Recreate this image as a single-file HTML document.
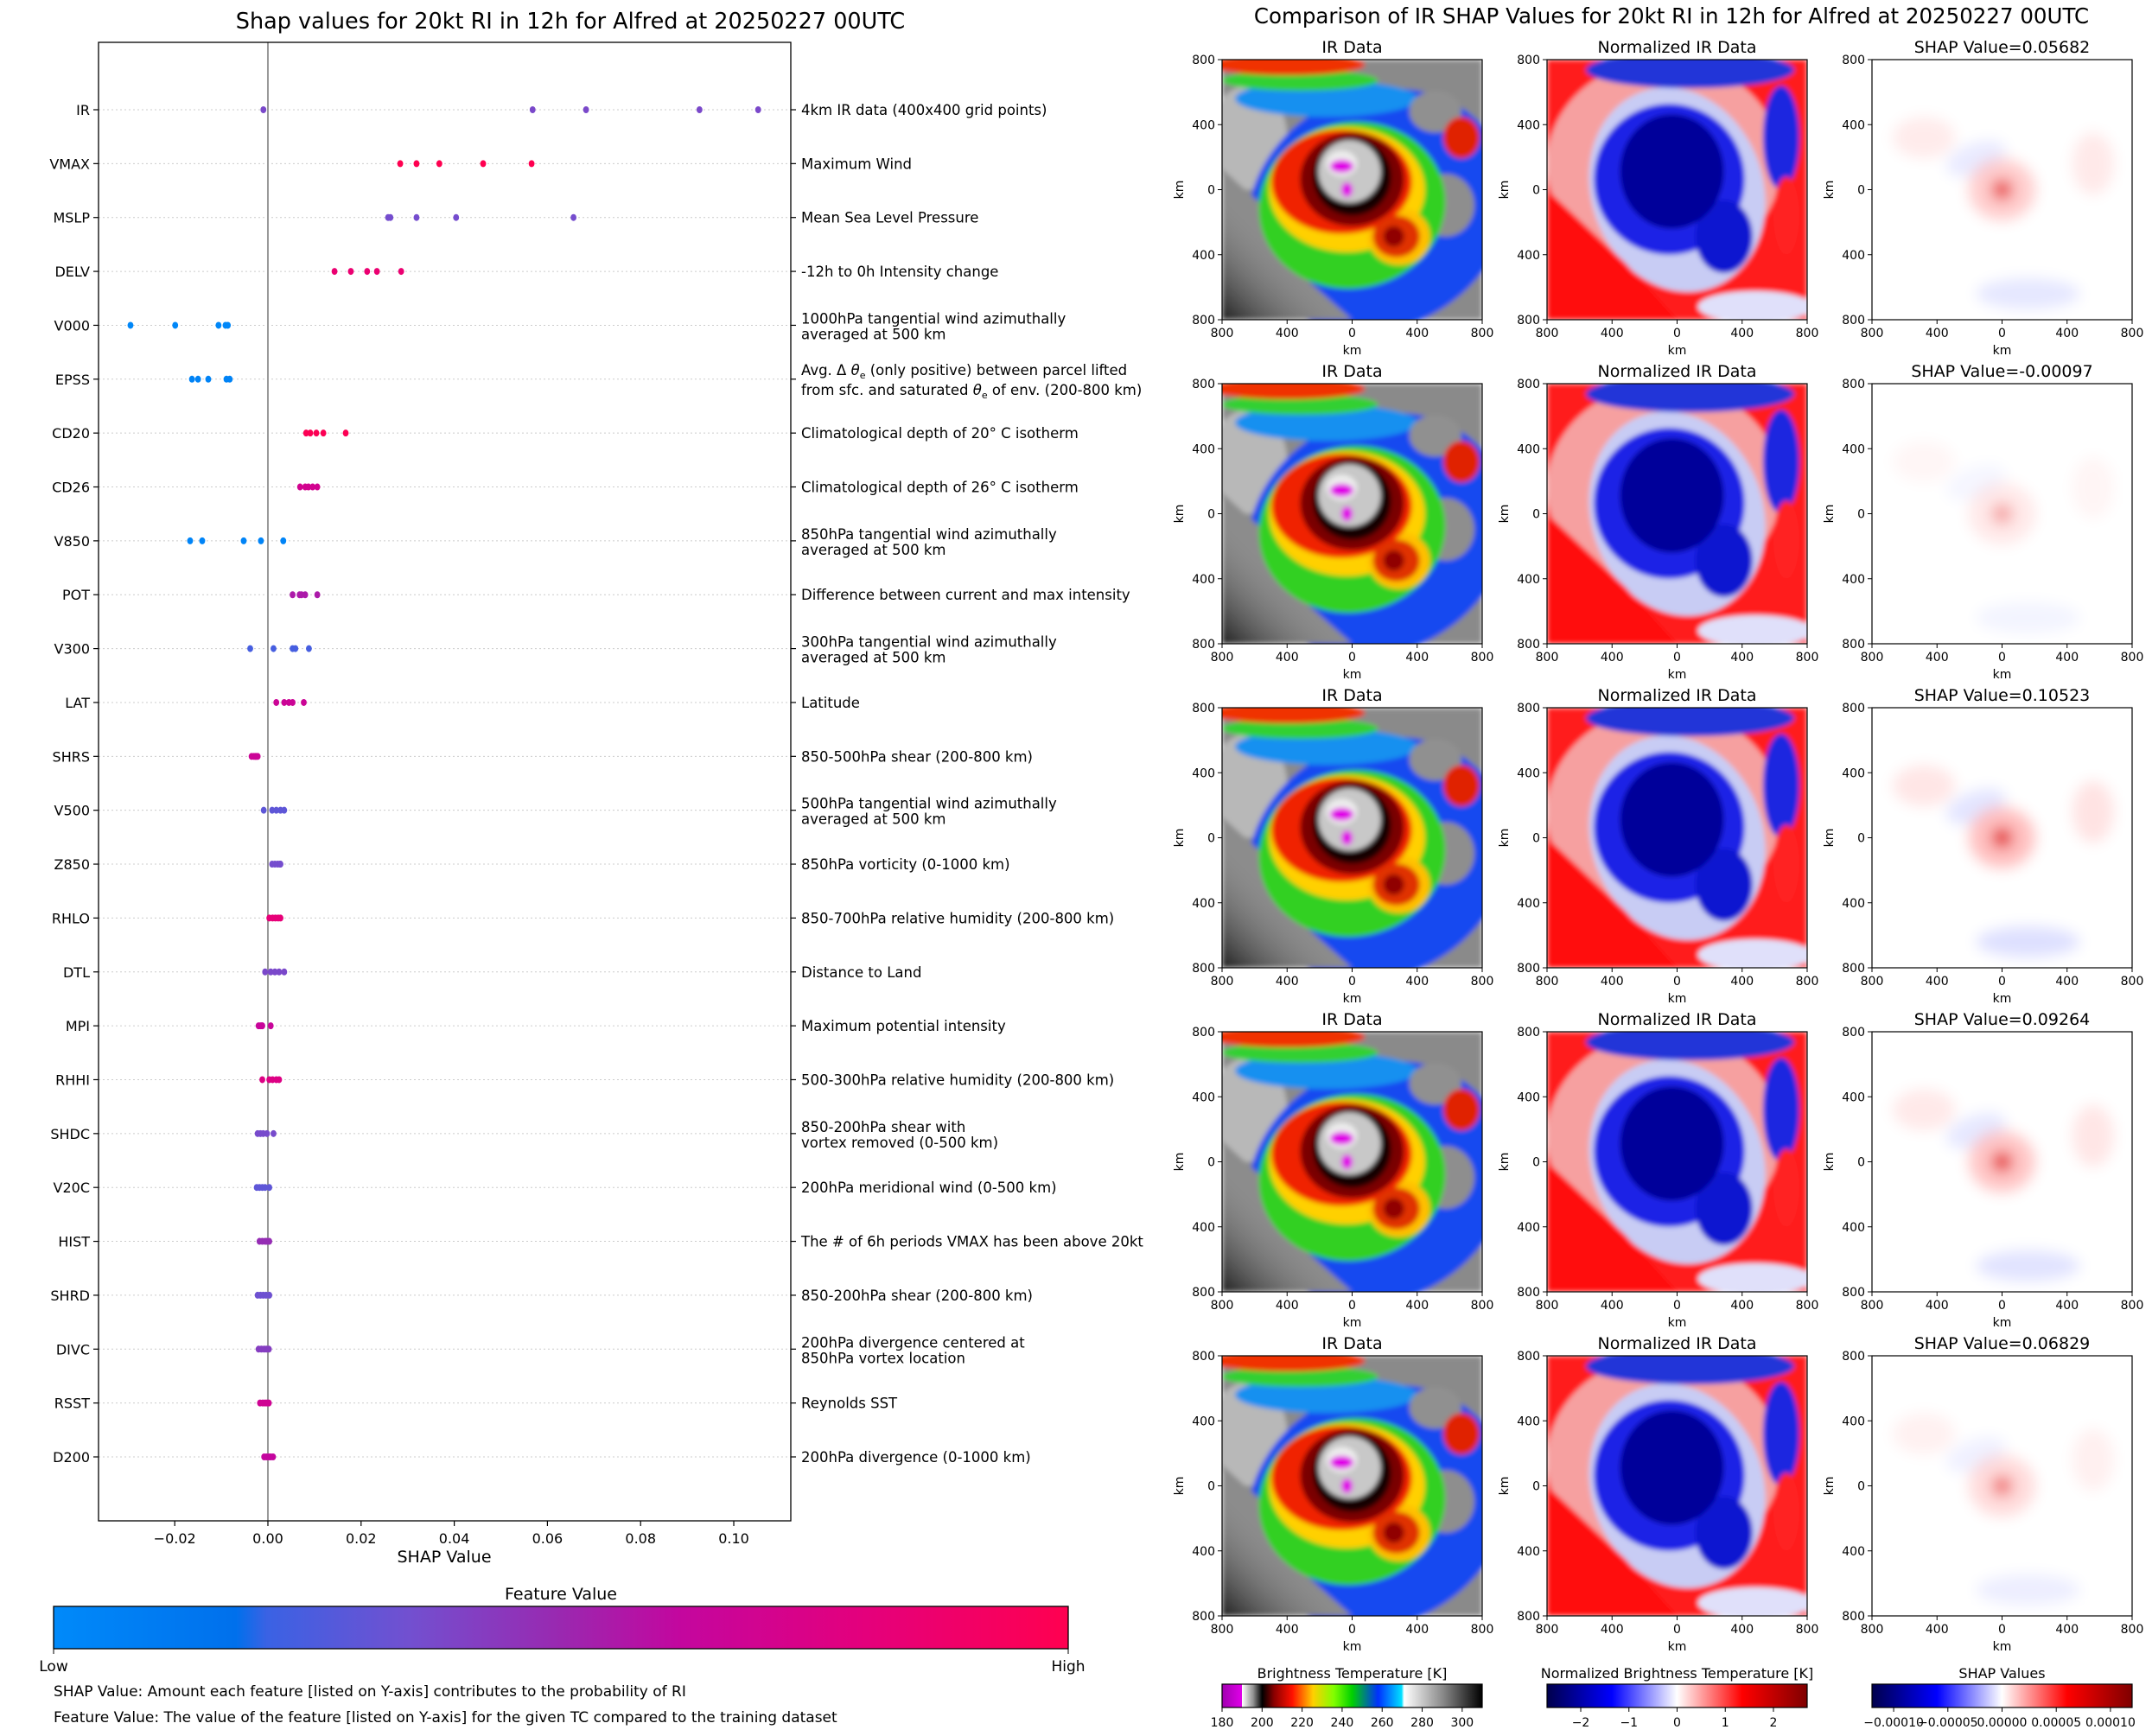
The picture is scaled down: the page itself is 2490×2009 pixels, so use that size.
<!DOCTYPE html>
<html><head><meta charset="utf-8">
<style>
html,body{margin:0;padding:0;background:#fff;}
svg{display:block;font-family:"DejaVu Sans","Liberation Sans",sans-serif;}
</style></head>
<body>
<svg id="root" width="2490" height="2009" viewBox="0 0 2490 2009" xmlns="http://www.w3.org/2000/svg">
<defs>
<linearGradient id="fvGrad" x1="0" x2="1" y1="0" y2="0">
<stop offset="0" stop-color="#008afa"/><stop offset="0.18" stop-color="#0070ec"/><stop offset="0.21" stop-color="#3a62e4"/>
<stop offset="0.35" stop-color="#7250d0"/><stop offset="0.5" stop-color="#9a28b0"/><stop offset="0.62" stop-color="#c4069e"/>
<stop offset="0.8" stop-color="#e4007c"/><stop offset="1" stop-color="#ff0050"/></linearGradient>
<linearGradient id="irGrad" x1="0" x2="1" y1="0" y2="0">
<stop offset="0" stop-color="#a000b0"/><stop offset="0.076" stop-color="#e000e8"/><stop offset="0.077" stop-color="#ffffff"/>
<stop offset="0.12" stop-color="#909090"/><stop offset="0.154" stop-color="#000000"/><stop offset="0.2" stop-color="#8a0000"/>
<stop offset="0.27" stop-color="#ff1000"/><stop offset="0.35" stop-color="#ffd000"/><stop offset="0.43" stop-color="#80ff00"/>
<stop offset="0.5" stop-color="#00d000"/><stop offset="0.6" stop-color="#0030ff"/><stop offset="0.69" stop-color="#00e0ff"/>
<stop offset="0.7" stop-color="#ffffff"/><stop offset="0.85" stop-color="#888888"/><stop offset="1" stop-color="#000000"/></linearGradient>
<linearGradient id="seisGrad" x1="0" x2="1" y1="0" y2="0">
<stop offset="0" stop-color="#00004c"/><stop offset="0.25" stop-color="#0000ff"/><stop offset="0.5" stop-color="#ffffff"/>
<stop offset="0.75" stop-color="#ff0000"/><stop offset="1" stop-color="#7f0000"/></linearGradient>
<linearGradient id="cornerGrad" x1="0" x2="1" y1="1" y2="0">
<stop offset="0" stop-color="#202020"/><stop offset="0.25" stop-color="#8c8c8c" stop-opacity="0"/></linearGradient>
<filter id="blur5" x="-10%" y="-10%" width="120%" height="120%"><feGaussianBlur stdDeviation="3"/></filter>
<filter id="blur9" x="-20%" y="-20%" width="140%" height="140%"><feGaussianBlur stdDeviation="8"/></filter>
</defs>
<g id="left"></g>
<g id="right"></g>
</svg>
<script>
const features = ['IR','VMAX','MSLP','DELV','V000','EPSS','CD20','CD26','V850','POT','V300','LAT','SHRS','V500','Z850','RHLO','DTL','MPI','RHHI','SHDC','V20C','HIST','SHRD','DIVC','RSST','D200'];
const descriptions = [
 ['4km IR data (400x400 grid points)'],['Maximum Wind'],['Mean Sea Level Pressure'],['-12h to 0h Intensity change'],
 ['1000hPa tangential wind azimuthally','averaged at 500 km'],['EPSS'],
 ['Climatological depth of 20° C isotherm'],['Climatological depth of 26° C isotherm'],
 ['850hPa tangential wind azimuthally','averaged at 500 km'],['Difference between current and max intensity'],
 ['300hPa tangential wind azimuthally','averaged at 500 km'],['Latitude'],['850-500hPa shear (200-800 km)'],
 ['500hPa tangential wind azimuthally','averaged at 500 km'],['850hPa vorticity (0-1000 km)'],['850-700hPa relative humidity (200-800 km)'],
 ['Distance to Land'],['Maximum potential intensity'],['500-300hPa relative humidity (200-800 km)'],
 ['850-200hPa shear with','vortex removed (0-500 km)'],['200hPa meridional wind (0-500 km)'],
 ['The # of 6h periods VMAX has been above 20kt'],['850-200hPa shear (200-800 km)'],
 ['200hPa divergence centered at','850hPa vortex location'],['Reynolds SST'],['200hPa divergence (0-1000 km)']];
const shapValues = [
 [-0.00097,0.05682,0.06829,0.09264,0.10523],[0.0284,0.0319,0.0368,0.0462,0.0566],[0.0258,0.0263,0.0319,0.0404,0.0656],
 [0.0143,0.0178,0.0213,0.0234,0.0286],[-0.0295,-0.0199,-0.0106,-0.0091,-0.0086],[-0.0163,-0.0150,-0.0128,-0.0089,-0.0082],
 [0.0082,0.0091,0.0104,0.0119,0.0167],[0.0069,0.0080,0.0087,0.0096,0.0106],[-0.0167,-0.0141,-0.0052,-0.0015,0.0033],
 [0.0053,0.0068,0.0072,0.0080,0.0106],[-0.0038,0.0012,0.0053,0.0059,0.0088],[0.0018,0.0035,0.0045,0.0053,0.0077],
 [-0.0035,-0.0030,-0.0027,-0.0025,-0.0022],[-0.0009,0.0009,0.0018,0.0027,0.0035],[0.0009,0.0015,0.0021,0.0026,0.0027],
 [0.0003,0.0010,0.0016,0.0022,0.0027],[-0.0006,0.0006,0.0015,0.0024,0.0035],[-0.0020,-0.0016,-0.0013,-0.0012,0.0006],
 [-0.0012,0.0003,0.0010,0.0018,0.0024],[-0.0022,-0.0016,-0.0010,-0.0002,0.0012],[-0.0024,-0.0018,-0.0012,-0.0006,0.0003],
 [-0.0018,-0.0012,-0.0006,-0.0002,0.0003],[-0.0022,-0.0016,-0.0010,-0.0004,0.0003],[-0.0020,-0.0014,-0.0008,-0.0003,0.0002],
 [-0.0017,-0.0011,-0.0006,-0.0002,0.0002],[-0.0008,-0.0003,0.0002,0.0006,0.0011]];
const featureValues = [0.38,1.0,0.36,0.85,0.02,0.05,0.98,0.7,0.04,0.55,0.24,0.66,0.66,0.3,0.36,0.82,0.38,0.64,0.76,0.37,0.3,0.48,0.34,0.42,0.68,0.62];
const xTicks = [-0.02,0.00,0.02,0.04,0.06,0.08,0.10];
const xTickLabels = ['\u22120.02','0.00','0.02','0.04','0.06','0.08','0.10'];
const panelShap = ['0.05682','-0.00097','0.10523','0.09264','0.06829'];
const panelShapStrength = [0.8,0.35,1.0,0.9,0.55];

const NS='http://www.w3.org/2000/svg';
function mk(tag,attrs,parent,text){const e=document.createElementNS(NS,tag);for(const k in attrs)e.setAttribute(k,attrs[k]);if(text!==undefined)e.textContent=text;parent.appendChild(e);return e;}
const L=document.getElementById('left'), R=document.getElementById('right');

const AX={l:114,r:915,t:49,b:1760};
const xMin=-0.03636,xMax=0.11224;
const xs=v=>AX.l+(v-xMin)/(xMax-xMin)*(AX.r-AX.l);
const y0=127,dy=62.36;
const ys=i=>y0+i*dy;
const cmapStops=[[0,[0,138,250]],[0.18,[0,112,236]],[0.21,[58,98,228]],[0.35,[114,80,208]],[0.5,[154,40,176]],[0.62,[196,6,158]],[0.8,[228,0,124]],[1,[255,0,80]]];
function cmap(t){for(let i=1;i<cmapStops.length;i++){if(t<=cmapStops[i][0]){const a=cmapStops[i-1],b=cmapStops[i];const f=(t-a[0])/(b[0]-a[0]);const c=a[1].map((x,j)=>Math.round(x+(b[1][j]-x)*f));return 'rgb('+c.join(',')+')';}}return 'rgb(255,0,80)';}

let t=mk('text',{x:660,y:33,'font-size':25.5,'text-anchor':'middle'},L,'Shap values for 20kt RI in 12h for Alfred at 20250227 00UTC');

features.forEach((f,i)=>{
  const y=ys(i);
  const gl=mk('line',{x1:AX.l,x2:AX.r,y1:y,y2:y,stroke:'#ccc','stroke-width':1,'stroke-dasharray':'2,3'},L);
  
  mk('line',{x1:AX.l-6,x2:AX.l,y1:y,y2:y,stroke:'#000','stroke-width':1.2},L);
  mk('line',{x1:AX.r,x2:AX.r+6,y1:y,y2:y,stroke:'#000','stroke-width':1.2},L);
  const lb=mk('text',{x:AX.l-10,y:y+6,'font-size':16,'text-anchor':'end'},L,f);
  
});
const zl=mk('line',{x1:xs(0),x2:xs(0),y1:AX.t,y2:AX.b,stroke:'#999','stroke-width':2},L);

shapValues.forEach((arr,i)=>{arr.forEach(v=>{
  const c=mk('ellipse',{cx:xs(v),cy:ys(i),rx:3.4,ry:4,fill:cmap(featureValues[i])},L);
  
});});
descriptions.forEach((d,i)=>{
  const y=ys(i);
  if(features[i]==='EPSS'){
    const tx=mk('text',{x:AX.r+12,y:y-5,'font-size':16.5},L);
    
    tx.innerHTML='Avg. Δ <tspan font-style="italic">θ</tspan><tspan font-size="11" dy="4">e</tspan><tspan dy="-4"> (only positive) between parcel lifted</tspan>';
    const tx2=mk('text',{x:AX.r+12,y:y+18,'font-size':16.5},L);
    
    tx2.innerHTML='from sfc. and saturated <tspan font-style="italic">θ</tspan><tspan font-size="11" dy="4">e</tspan><tspan dy="-4"> of env. (200-800 km)</tspan>';
  } else if(d.length===1){
    const tx=mk('text',{x:AX.r+12,y:y+6,'font-size':16.5},L,d[0]);
    
  } else {
    const tx=mk('text',{x:AX.r+12,y:y-2,'font-size':16.5},L,d[0]);
    
    const tx2=mk('text',{x:AX.r+12,y:y+16,'font-size':16.5},L,d[1]);
    
  }
});
const fr=mk('rect',{x:AX.l,y:AX.t,width:AX.r-AX.l,height:AX.b-AX.t,fill:'none',stroke:'#000','stroke-width':1.3},L);

xTicks.forEach((v,k)=>{
  mk('line',{x1:xs(v),x2:xs(v),y1:AX.b,y2:AX.b+6,stroke:'#000','stroke-width':1.2},L);
  const tl=mk('text',{x:xs(v),y:AX.b+26,'font-size':16,'text-anchor':'middle'},L,xTickLabels[k]);
  
});
t=mk('text',{x:514,y:1808,'font-size':19,'text-anchor':'middle'},L,'SHAP Value');

t=mk('text',{x:649,y:1851,'font-size':19,'text-anchor':'middle'},L,'Feature Value');

t=mk('rect',{x:62,y:1859,width:1174,height:49,fill:'url(#fvGrad)',stroke:'#000','stroke-width':1.3},L);

mk('line',{x1:62,x2:62,y1:1908,y2:1914,stroke:'#000'},L);mk('line',{x1:1236,x2:1236,y1:1908,y2:1914,stroke:'#000'},L);
t=mk('text',{x:62,y:1934,'font-size':17,'text-anchor':'middle'},L,'Low');
t=mk('text',{x:1236,y:1934,'font-size':17,'text-anchor':'middle'},L,'High');
t=mk('text',{x:62,y:1963,'font-size':17},L,'SHAP Value: Amount each feature [listed on Y-axis] contributes to the probability of RI');

t=mk('text',{x:62,y:1993,'font-size':17},L,'Feature Value: The value of the feature [listed on Y-axis] for the given TC compared to the training dataset');


t=mk('text',{x:1934,y:27,'font-size':24.5,'text-anchor':'middle'},R,'Comparison of IR SHAP Values for 20kt RI in 12h for Alfred at 20250227 00UTC');

const colX=[1414,1790,2166], PW=301;
const rowY=[69,444,819,1194,1569];
const titles=['IR Data','Normalized IR Data'];
let clipN=0;
function E(g,u,v,rx,ry,fill,rot,op){const e=mk('ellipse',{cx:u*PW,cy:v*PW,rx:rx*PW,ry:ry*PW,fill:fill},g);if(rot)e.setAttribute('transform','rotate('+rot+' '+u*PW+' '+v*PW+')');if(op!==undefined)e.setAttribute('opacity',op);return e;}
function P(g,pts,fill,op){const e=mk('polygon',{points:pts.map(p=>(p[0]*PW)+','+(p[1]*PW)).join(' '),fill:fill},g);if(op!==undefined)e.setAttribute('opacity',op);return e;}
function drawIR(g){
  mk('rect',{x:0,y:0,width:PW,height:PW,fill:'#8a8a8a'},g);
  E(g,0.1,0.3,0.15,0.2,'#b8b8b8');
  E(g,0.6,0.58,0.52,0.45,'#1848f0',-30);
  E(g,0.4,0.15,0.35,0.07,'#1890f0');
  E(g,0.3,0.08,0.3,0.04,'#30d030');
  E(g,0.25,0.02,0.3,0.04,'#f03000');
  P(g,[[0,0.42],[0.2,0.6],[0.33,0.85],[0.5,1],[0,1]],'#8c8c8c');
  mk('rect',{x:0,y:0,width:PW,height:PW,fill:'url(#cornerGrad)'},g);
  E(g,0.86,0.56,0.11,0.12,'#8e8e8e');
  E(g,0.82,0.2,0.1,0.08,'#909090');
  E(g,0.92,0.3,0.07,0.08,'#e02000');
  E(g,0.5,0.56,0.36,0.32,'#30d020',-10);
  E(g,0.48,0.5,0.3,0.24,'#ffd000');
  E(g,0.68,0.68,0.12,0.11,'#ffc000');
  E(g,0.46,0.47,0.27,0.2,'#f02000');
  E(g,0.67,0.68,0.09,0.08,'#e03000');
  E(g,0.66,0.68,0.04,0.04,'#900000');
  E(g,0.5,0.46,0.2,0.18,'#7a0000');
  E(g,0.5,0.45,0.15,0.15,'#180000');
  E(g,0.49,0.43,0.12,0.12,'#c8c8c8');
  E(g,0.46,0.4,0.06,0.05,'#ececec');
  E(g,0.46,0.41,0.045,0.025,'#e000e8');
  E(g,0.48,0.5,0.022,0.028,'#e000e8');
}
function drawNorm(g){
  mk('rect',{x:0,y:0,width:PW,height:PW,fill:'#ff1a1a'},g);
  E(g,0.45,0.4,0.45,0.4,'#f6a0a0');
  E(g,0.5,0.5,0.33,0.4,'#c8ccf4',-20);
  E(g,0.55,0.04,0.4,0.07,'#2036d8');
  E(g,0.9,0.3,0.07,0.2,'#1a28e0');
  E(g,0.47,0.46,0.29,0.29,'#1a24e6');
  E(g,0.68,0.68,0.11,0.14,'#0a18d0');
  E(g,0.48,0.43,0.2,0.22,'#00009a');
  P(g,[[0,0.5],[0.3,0.78],[0.5,1],[0,1]],'#ff1010');
  E(g,0.8,0.95,0.22,0.06,'#e0e0fa');
  E(g,0.92,0.6,0.05,0.15,'#ff2020');
}
function drawShap(g,s){
  mk('rect',{x:0,y:0,width:PW,height:PW,fill:'#fff'},g);
  E(g,0.4,0.38,0.12,0.06,'#d0d4ff',-20,0.6*s);
  E(g,0.5,0.5,0.13,0.12,'#ffb0b0',0,0.8*s);
  E(g,0.5,0.5,0.04,0.04,'#e01010',0,0.9*s);
  E(g,0.6,0.9,0.2,0.06,'#c8ccff',0,0.6*s);
  E(g,0.2,0.3,0.12,0.08,'#ffd6d6',0,0.6*s);
  E(g,0.85,0.4,0.08,0.12,'#ffd0d0',0,0.6*s);
}
function tickNum(v){return v===0?'0':String(Math.abs(v));}
const kmTicks=[-800,-400,0,400,800];
rowY.forEach((py,r)=>{
  colX.forEach((px,c)=>{
    const g=mk('g',{transform:'translate('+px+','+py+')'},R);
    
    
    const id='clp'+(clipN++);
    const cp=mk('clipPath',{id:id},g);mk('rect',{x:0,y:0,width:PW,height:PW},cp);
    const img=mk('g',{'clip-path':'url(#'+id+')'},g);
    const inner=mk('g',{filter:c===2?'url(#blur9)':'url(#blur5)'},img);
    if(c===0)drawIR(inner);else if(c===1)drawNorm(inner);else drawShap(inner,panelShapStrength[r]);
    mk('rect',{x:0,y:0,width:PW,height:PW,fill:'none',stroke:'#000','stroke-width':1.2},g);
    const ttl=c<2?titles[c]:'SHAP Value='+panelShap[r];
    const tt=mk('text',{x:PW/2,y:-8,'font-size':19,'text-anchor':'middle'},g,ttl);
    
    kmTicks.forEach(k=>{
      const xx=(k+800)/1600*PW, yy=(800-k)/1600*PW;
      mk('line',{x1:xx,x2:xx,y1:PW,y2:PW+5,stroke:'#000'},g);
      mk('text',{x:xx,y:PW+20,'font-size':14,'text-anchor':'middle'},g,tickNum(k));
      mk('line',{x1:-5,x2:0,y1:yy,y2:yy,stroke:'#000'},g);
      mk('text',{x:-8,y:yy+5,'font-size':14,'text-anchor':'end'},g,tickNum(k));
    });
    mk('text',{x:PW/2,y:PW+40,'font-size':14,'text-anchor':'middle'},g,'km');
    mk('text',{x:-45,y:PW/2,'font-size':14,'text-anchor':'middle',transform:'rotate(-90 -45 '+PW/2+')'},g,'km');
  });
});
const cbY=1949,cbH=27;
const cbs=[
 {x:colX[0],title:'Brightness Temperature [K]',grad:'irGrad',min:180,max:310,ticks:[180,200,220,240,260,280,300],labels:['180','200','220','240','260','280','300'],name:'brightness-colorbar'},
 {x:colX[1],title:'Normalized Brightness Temperature [K]',grad:'seisGrad',min:-2.7,max:2.7,ticks:[-2,-1,0,1,2],labels:['\u22122','\u22121','0','1','2'],name:'normalized-colorbar'},
 {x:colX[2],title:'SHAP Values',grad:'seisGrad',min:-0.00012,max:0.00012,ticks:[-0.0001,-0.00005,0,0.00005,0.0001],labels:['\u22120.00010','\u22120.00005','0.00000','0.00005','0.00010'],name:'shap-colorbar'}];
cbs.forEach(cb=>{
  const g=mk('g',{},R);
  mk('text',{x:cb.x+PW/2,y:cbY-7,'font-size':16,'text-anchor':'middle'},g,cb.title);
  mk('rect',{x:cb.x,y:cbY,width:PW,height:cbH,fill:'url(#'+cb.grad+')',stroke:'#000','stroke-width':1.2},g);
  cb.ticks.forEach((v,k)=>{const xx=cb.x+(v-cb.min)/(cb.max-cb.min)*PW;
    mk('line',{x1:xx,x2:xx,y1:cbY+cbH,y2:cbY+cbH+5,stroke:'#000'},g);
    mk('text',{x:xx,y:cbY+cbH+22,'font-size':14,'text-anchor':'middle'},g,cb.labels[k]);});
});
</script>
</body></html>
